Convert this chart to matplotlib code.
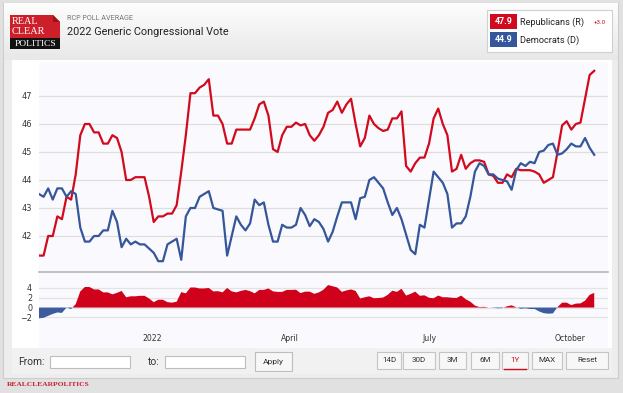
import numpy as np
import pandas as pd
import matplotlib
matplotlib.use('Agg')
import matplotlib.pyplot as plt
from matplotlib.patches import Rectangle, Polygon
from matplotlib.colors import LinearSegmentedColormap

# RCP average, one reading every 3 days from 2021-10-19
start_date = '2021-10-19'
rep_vals = [41.3, 41.3, 42.0, 42.0, 42.7, 42.6, 43.4, 43.3, 44.2, 45.6,
            46.0, 46.0, 45.7, 45.7, 45.3, 45.3, 45.6, 45.5, 45.0, 44.0,
            44.0, 44.1, 44.1, 44.1, 43.4, 42.5, 42.7, 42.7, 42.8, 42.8,
            43.1, 44.3, 45.6, 47.1, 47.1, 47.3, 47.4, 47.6, 46.3, 46.3,
            46.0, 45.3, 45.3, 45.8, 45.8, 45.8, 45.8, 46.2, 46.7, 46.8,
            46.3, 45.1, 45.0, 45.6, 45.9, 45.9, 46.05, 45.95, 46.0, 45.6,
            45.4, 45.6, 45.9, 46.4, 46.5, 46.8, 46.4, 46.7, 46.9, 46.0,
            45.2, 45.5, 46.3, 46.0, 45.85, 45.75, 45.8, 46.2, 46.2, 46.45,
            44.5, 44.3, 44.6, 44.8, 44.8, 45.3, 46.2, 46.55, 46.0, 45.6,
            44.3, 44.4, 44.9, 44.4, 44.6, 44.7, 44.7, 44.65, 44.2, 44.15,
            43.9, 43.9, 44.2, 44.1, 44.4, 44.35, 44.35, 44.35, 44.3, 44.2,
            43.9, 44.0, 44.1, 45.0, 45.95, 46.1, 45.8, 46.0, 46.05, 46.9,
            47.75, 47.9]
dem_vals = [43.5, 43.4, 43.7, 43.3, 43.7, 43.7, 43.4, 43.6, 43.5, 42.3,
            41.8, 41.8, 42.0, 42.0, 42.2, 42.2, 42.9, 42.5, 41.6, 41.9,
            41.7, 41.8, 41.7, 41.7, 41.55, 41.4, 41.1, 41.1, 41.7, 41.8,
            41.9, 41.15, 42.7, 43.0, 43.0, 43.4, 43.5, 43.6, 43.0, 42.95,
            42.9, 41.3, 42.0, 42.7, 42.4, 42.2, 42.45, 43.3, 43.1, 43.2,
            42.4, 41.8, 41.8, 42.4, 42.3, 42.3, 42.4, 43.0, 42.75, 42.35,
            42.6, 42.5, 42.25, 41.8, 42.15, 42.7, 43.2, 43.2, 43.2, 42.6,
            43.35, 43.4, 44.0, 44.1, 43.9, 43.7, 43.2, 42.75, 43.0, 42.6,
            42.05, 41.5, 41.35, 42.4, 42.3, 43.3, 44.3, 44.1, 43.9, 43.5,
            42.3, 42.45, 42.45, 42.7, 43.4, 44.3, 44.6, 44.5, 44.2, 44.2,
            44.05, 44.0, 43.95, 43.65, 44.35, 44.6, 44.5, 44.65, 44.6, 45.0,
            45.05, 45.25, 45.3, 44.9, 44.95, 45.1, 45.3, 45.2, 45.2, 45.5,
            45.15, 44.9]

month_ticks = ['2022-01-01', '2022-04-01', '2022-07-01', '2022-10-01']
month_labels = ['2022', 'April', 'July', 'October']
main_yticks = [42, 43, 44, 45, 46, 47]
spread_yticks = [-2, 0, 2, 4]
legend_names = ['Republicans (R)', 'Democrats (D)']
legend_values = ['47.9', '44.9']
rep_change = '+3.0'
range_buttons = ['14D', '30D', '3M', '6M', '1Y', 'MAX', 'Reset']

RED = '#d20a1e'
BLUE = '#35569b'
W, H = 623, 393
UI = 'Roboto'

dates = pd.date_range(start_date, periods=len(rep_vals), freq='3D')
rep = np.array(rep_vals)
dem = np.array(dem_vals)
spread = rep - dem

fig = plt.figure(figsize=(W / 100, H / 100), dpi=100)
fig.patch.set_facecolor('#e1e1e1')

# background layer drawn in pixel coordinates
bg = fig.add_axes([0, 0, 1, 1])
bg.axis('off')
bg.add_patch(Rectangle((3, 3), 615, 375, facecolor='#ededed', edgecolor='#cdcdcd', lw=0.8, zorder=0))
grad = np.linspace(0, 1, 100).reshape(-1, 1)
bg.imshow(grad, extent=(3.5, 617.5, 60, 3.5), aspect='auto', zorder=1,
          cmap=LinearSegmentedColormap.from_list('hdr', ['#fdfdfd', '#e8e8e8']))

# logo
bg.add_patch(Rectangle((10, 15), 50, 23, facecolor='#cc1f2a', zorder=2))
bg.add_patch(Polygon([[53, 15], [60, 15], [60, 22]], closed=True, facecolor='#f4f4f4', zorder=3))
bg.add_patch(Polygon([[53, 15], [60, 22], [53, 22]], closed=True, facecolor='#9e1219', zorder=3))
bg.add_patch(Rectangle((10, 38), 50, 11, facecolor='#111111', zorder=2))
for txt, y in [('REAL', 22), ('CLEAR', 32)]:
    bg.text(11.5, y, txt, color='white', fontsize=7.4, family='Liberation Serif', va='center', zorder=4)
bg.text(35, 43.5, 'POLITICS', color='white', fontsize=6.8, family='Liberation Serif',
        ha='center', va='center', zorder=4)

# header text
bg.text(67, 19, 'RCP POLL AVERAGE', color='#777777', fontsize=5.2, family=UI, va='center', zorder=4)
bg.text(67, 32, '2022 Generic Congressional Vote', color='#222222', fontsize=7.8, family=UI,
        va='center', zorder=4)

# legend box
bg.add_patch(Rectangle((487, 10), 125, 42, facecolor='white', edgecolor='#d0d0d0', lw=0.8, zorder=2))
for k, (name, val, col) in enumerate(zip(legend_names, legend_values, [RED, BLUE])):
    y0 = 14 + 18 * k
    bg.add_patch(Rectangle((490, y0), 27, 15, facecolor=col, zorder=3))
    bg.text(503.5, y0 + 7.8, val, color='white', fontsize=6.4, family=UI, fontweight='bold',
            ha='center', va='center', zorder=4)
    bg.text(520, y0 + 7.8, name, color='#222222', fontsize=6.6, family=UI, va='center', zorder=4)
bg.text(594, 22, rep_change, color=RED, fontsize=4.4, family=UI, va='center', zorder=4)

# chart panel
bg.add_patch(Rectangle((12, 60), 600, 288, facecolor='white', zorder=2))
bg.add_patch(Rectangle((39, 62), 569, 286, facecolor='#fafafe', zorder=2))
bg.plot([39, 608], [272, 272], color='#b5b5b5', lw=1.2, zorder=3)

# control bar
bg.add_patch(Rectangle((12, 348), 600, 26, facecolor='#f1f1f1', zorder=2))
bg.text(18, 362, 'From:', color='#333333', fontsize=7.4, family=UI, va='center', zorder=4)
bg.add_patch(Rectangle((50, 356), 80, 12, facecolor='white', edgecolor='#bdbdbd', lw=0.8, zorder=3))
bg.text(148, 362, 'to:', color='#333333', fontsize=7.4, family=UI, va='center', zorder=4)
bg.add_patch(Rectangle((165, 356), 80, 12, facecolor='white', edgecolor='#bdbdbd', lw=0.8, zorder=3))
bg.add_patch(Rectangle((255, 352), 37, 19, facecolor='#f7f7f7', edgecolor='#bdbdbd', lw=0.8, zorder=3))
bg.text(273.5, 362, 'Apply', color='#333333', fontsize=6, family=UI, ha='center', va='center', zorder=4)

btn_edges = [(377, 24), (403, 32), (439, 27), (471, 28), (502, 26), (532, 30), (566, 42)]
for label, (bx, bw) in zip(range_buttons, btn_edges):
    bg.add_patch(Rectangle((bx, 352), bw, 17, facecolor='#f7f7f7', edgecolor='#c4c4c4', lw=0.8, zorder=3))
    col = RED if label == '1Y' else '#333333'
    bg.text(bx + bw / 2, 360.5, label, color=col, fontsize=5.8, family=UI,
            ha='center', va='center', zorder=4)
    if label == '1Y':
        bg.plot([bx + 2, bx + bw - 2], [368.5, 368.5], color=RED, lw=1, zorder=5)

bg.text(7, 384.5, 'REALCLEARPOLITICS', color='#c8202f', fontsize=5.4, family='Liberation Serif',
        fontweight='bold', va='center', zorder=4)
bg.set_xlim(0, W)
bg.set_ylim(H, 0)

xlim = (pd.Timestamp('2021-10-19'), pd.Timestamp('2022-10-26'))

# main chart
ax = fig.add_axes([39 / W, 1 - 272 / H, 569 / W, 210 / H])
ax.patch.set_visible(False)
ax.plot(dates, rep, color=RED, lw=1.6, zorder=3)
ax.plot(dates, dem, color=BLUE, lw=1.6, zorder=3)
ax.set_xlim(*xlim)
ax.set_ylim(40.714, 48.214)
ax.set_yticks(main_yticks)
ax.grid(axis='y', color='#dedede', lw=0.9)
ax.set_xticks([])
ax.tick_params(axis='y', length=0, pad=5, labelsize=5.9, labelcolor='#333333')
for s in ax.spines.values():
    s.set_visible(False)

# spread panel
ax2 = fig.add_axes([39 / W, 1 - 328 / H, 569 / W, 55 / H])
ax2.patch.set_visible(False)
ax2.fill_between(dates, spread, 0, where=spread >= 0, interpolate=True, color='#d0021b', lw=0, zorder=3)
ax2.fill_between(dates, spread, 0, where=spread <= 0, interpolate=True, color='#3d5c9e', lw=0, zorder=3)
ax2.set_xlim(*xlim)
ax2.set_ylim(-4.18, 7.06)
ax2.set_yticks(spread_yticks)
ax2.grid(axis='y', color='#e3e3e3', lw=0.9)
ax2.set_xticks(pd.to_datetime(month_ticks))
ax2.set_xticklabels(month_labels)
ax2.tick_params(axis='x', length=0, pad=4, labelsize=5.6, labelcolor='#333333')
ax2.tick_params(axis='y', length=0, pad=5, labelsize=5.8, labelcolor='#333333')
for s in ax2.spines.values():
    s.set_visible(False)

fig.savefig('out.png', dpi=100)
